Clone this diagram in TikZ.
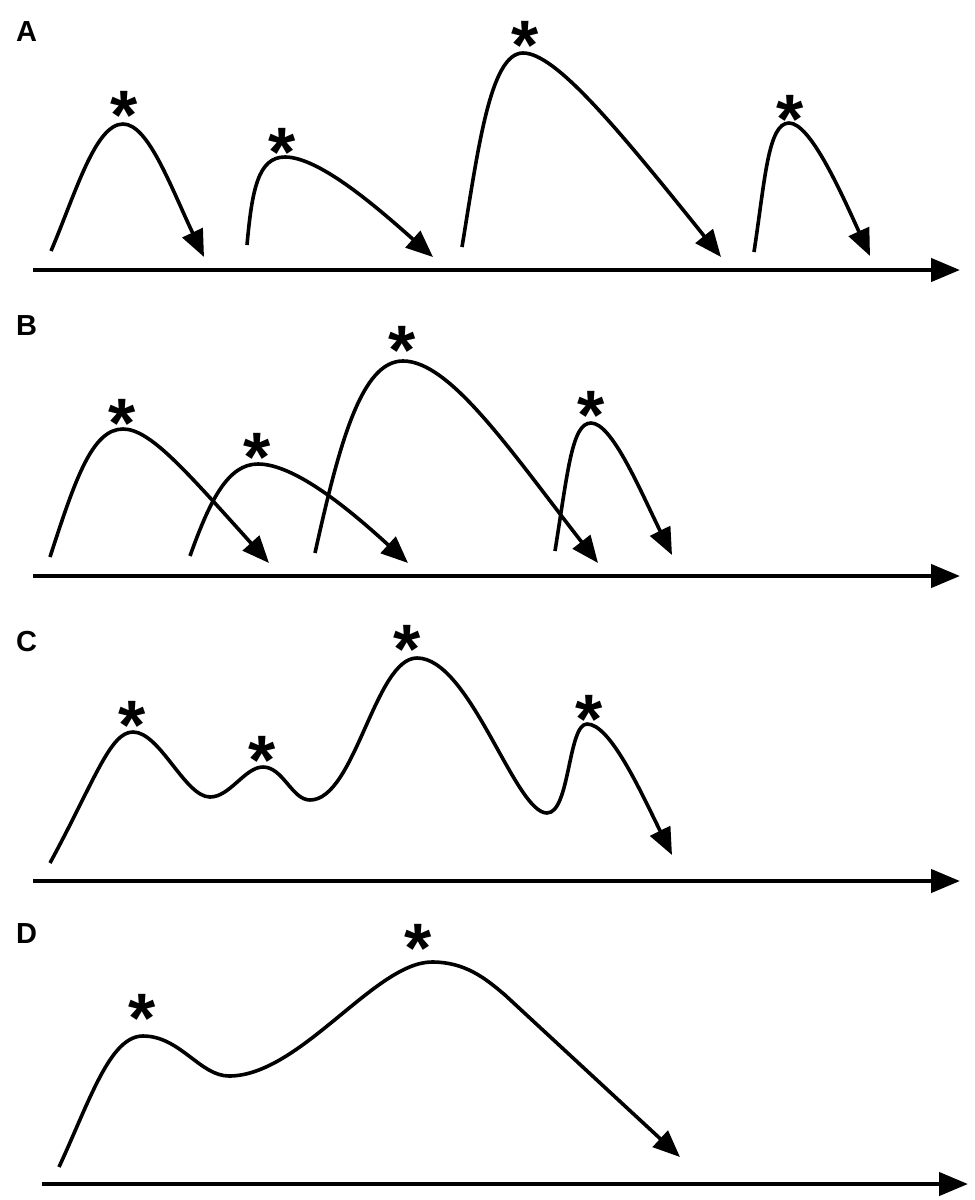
\documentclass[tikz,border=0pt]{standalone}
\usepackage{fontspec}
\setmainfont{Liberation Sans}
\usetikzlibrary{arrows.meta}
\begin{document}
\begin{tikzpicture}[x=1pt,y=-1pt,
  curve/.style={line width=3.6pt, -{Triangle[length=27pt,width=22pt]}},
  axis/.style={line width=4.4pt, -{Triangle[length=29pt,width=23pt]}},
  star/.style={inner sep=0pt, anchor=north, yshift=6pt, font=\fontsize{70}{70}\selectfont\bfseries},
  lab/.style={inner sep=0pt, anchor=base west, font=\fontsize{29}{29}\selectfont\bfseries}]
\useasboundingbox (0,0) rectangle (975,1200);

% ---------- labels ----------
\node[lab] (labA) at (16,41) {A};
\node[lab] (labB) at (16,335) {B};
\node[lab] (labC) at (16,651) {C};
\node[lab] (labD) at (16,943) {D};

% ---------- axes ----------
\coordinate (axA0) at (33,270);   \coordinate (axA1) at (960,270);
\coordinate (axB0) at (33,576);   \coordinate (axB1) at (960,576);
\coordinate (axC0) at (33,881);   \coordinate (axC1) at (960,881);
\coordinate (axD0) at (42,1184);  \coordinate (axD1) at (968,1184);
\draw[axis] (axA0) -- (axA1);
\draw[axis] (axB0) -- (axB1);
\draw[axis] (axC0) -- (axC1);
\draw[axis] (axD0) -- (axD1);

% ---------- panel A ----------
\draw[curve] (51,251) .. controls (75,195) and (95,124) .. (123,124)
  .. controls (148,124) and (170,185) .. (204,257);
\draw[curve] (247,245) .. controls (252,190) and (258,157) .. (285,157)
  .. controls (320,157) and (380,210) .. (433,257);
\draw[curve] (462,247) .. controls (478,150) and (490,53) .. (523,53)
  .. controls (555,53) and (615,125) .. (721,257);
\draw[curve] (754,252) .. controls (765,180) and (768,123) .. (789,123)
  .. controls (810,123) and (840,190) .. (870,256);
\node[star] (sA1) at (124,97) {*};
\node[star] (sA2) at (282,134) {*};
\node[star] (sA3) at (525,27) {*};
\node[star] (sA4) at (790,101) {*};

% ---------- panel B ----------
\draw[curve] (50,557) .. controls (75,480) and (92,429) .. (123,429)
  .. controls (150,429) and (185,470) .. (269,563);
\draw[curve] (190,556) .. controls (210,500) and (228,464) .. (258,464)
  .. controls (295,464) and (350,510) .. (408,563);
\draw[curve] (315,553) .. controls (340,440) and (362,361) .. (403,361)
  .. controls (450,361) and (510,450) .. (598,563);
\draw[curve] (555,551) .. controls (568,470) and (572,423) .. (591,423)
  .. controls (612,423) and (640,490) .. (672,555);
\node[star] (sB1) at (122,405) {*};
\node[star] (sB2) at (257,439) {*};
\node[star] (sB3) at (402,332) {*};
\node[star] (sB4) at (591,397) {*};

% ---------- panel C ----------
\draw[curve] (50,863) .. controls (95,780) and (110,732) .. (133,732)
  .. controls (160,732) and (185,797) .. (210,797)
  .. controls (230,797) and (245,767) .. (263,767)
  .. controls (283,767) and (292,800) .. (310,800)
  .. controls (355,800) and (375,658) .. (417,658)
  .. controls (470,658) and (515,813) .. (547,813)
  .. controls (570,813) and (568,724) .. (587,724)
  .. controls (610,724) and (640,790) .. (672,855);
\node[star] (sC1) at (132,707) {*};
\node[star] (sC2) at (262,742) {*};
\node[star] (sC3) at (407,631) {*};
\node[star] (sC4) at (589,701) {*};

% ---------- panel D ----------
\draw[curve] (59,1167) .. controls (90,1100) and (110,1036) .. (143,1036)
  .. controls (180,1036) and (200,1076) .. (229,1076)
  .. controls (300,1076) and (375,962) .. (432,962)
  .. controls (465,962) and (485,978) .. (505,995)
  -- (680,1157);
\node[star] (sD1) at (142,1000) {*};
\node[star] (sD2) at (418,930) {*};
\end{tikzpicture}
\end{document}
